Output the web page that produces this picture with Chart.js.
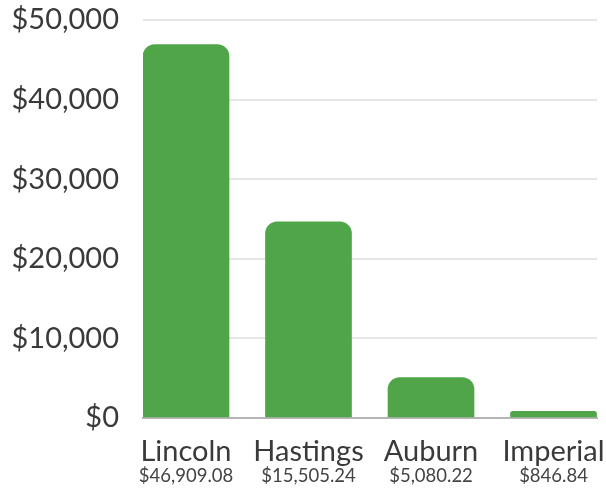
<!DOCTYPE html>
<html>
<head>
<meta charset="utf-8">
<script src="https://cdn.jsdelivr.net/npm/chart.js@4.4.1/dist/chart.umd.min.js"></script>
<style>
  html, body { margin: 0; padding: 0; background: #ffffff; }
  #wrap { width: 606px; height: 488px; }
</style>
</head>
<body>
<div id="wrap"><canvas id="c" width="606" height="488"></canvas></div>
<script>
// Data
const categories = ["Lincoln", "Hastings", "Auburn", "Imperial"];
const barValues = [46909.08, 24650, 5080.22, 846.84];
const valueLabels = ["$46,909.08", "$15,505.24", "$5,080.22", "$846.84"];
const yTicks = [0, 10000, 20000, 30000, 40000, 50000];

const TEXT = "#3a3a3a";
const GREEN = "#4fa547";

const valueLabelPlugin = {
  id: "valueLabels",
  afterDraw(chart) {
    const ctx = chart.ctx;
    const xs = chart.scales.x;
    ctx.save();
    ctx.font = "18.5px Lato";
    ctx.fillStyle = "#444444";
    ctx.textAlign = "center";
    ctx.textBaseline = "alphabetic";
    valueLabels.forEach((t, i) => {
      ctx.fillText(t, xs.getPixelForValue(i), chart.chartArea.bottom + 64);
    });
    ctx.restore();
  }
};

new Chart(document.getElementById("c"), {
  type: "bar",
  data: {
    datasets: [{
      data: categories.map((c, i) => ({ x: i, y: barValues[i] })),
      backgroundColor: GREEN,
      borderWidth: 0,
      borderRadius: { topLeft: 12, topRight: 12, bottomLeft: 0, bottomRight: 0 },
      borderSkipped: "start",
      barThickness: 86
    }]
  },
  options: {
    responsive: false,
    animation: false,
    layout: { padding: { top: 20, right: 9, bottom: 0, left: 0 } },
    plugins: { legend: { display: false }, tooltip: { enabled: false } },
    scales: {
      x: {
        type: "linear",
        offset: false,
        bounds: "data",
        min: -0.351,
        max: 3.355,
        grid: { display: false, drawTicks: false, offset: false },
        border: { display: true, color: "#b5b5b5", width: 2 },
        afterBuildTicks: (s) => { s.ticks = categories.map((c, i) => ({ value: i })); },
        afterFit: (s) => { s.height = 70; s.paddingLeft = 0; s.paddingRight = 0; },
        ticks: {
          autoSkip: false,
          maxRotation: 0,
          padding: 16,
          color: TEXT,
          font: { family: "Lato", size: 29 },
          callback: (v) => categories[v]
        }
      },
      y: {
        min: 0,
        max: 50000,
        afterBuildTicks: (s) => { s.ticks = yTicks.map(v => ({ value: v })); },
        afterFit: (s) => { s.width = 143; s.paddingTop = 0; s.paddingBottom = 0; },
        grid: { color: "#e6e6e6", lineWidth: 2, drawTicks: false },
        border: { display: false },
        ticks: {
          padding: 24,
          color: TEXT,
          font: { family: "Lato", size: 29 },
          callback: (v) => "$" + v.toLocaleString("en-US")
        }
      }
    }
  },
  plugins: [valueLabelPlugin]
});
</script>
</body>
</html>
